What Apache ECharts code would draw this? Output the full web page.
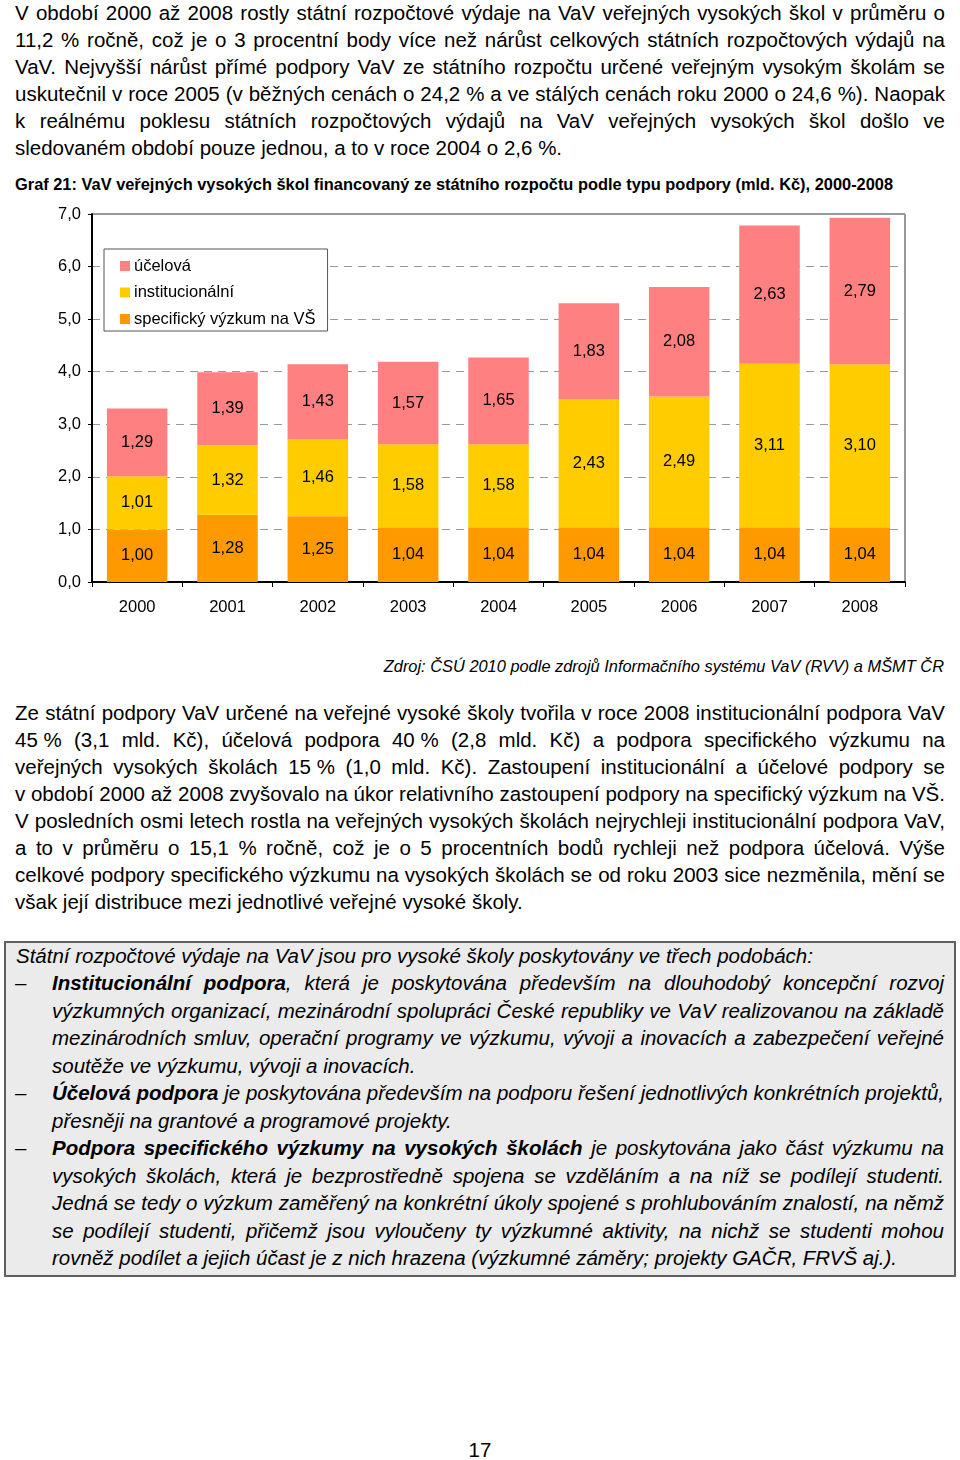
<!DOCTYPE html>
<html>
<head>
<meta charset="utf-8">
<script src="https://cdn.jsdelivr.net/npm/echarts@6/dist/echarts.min.js"></script>
<style>
  html, body { margin:0; padding:0; background:#fff; }
  #page { position:relative; width:960px; height:1460px; overflow:hidden; font-family:'Liberation Sans', Arial, sans-serif; color:#000; }
  .para { position:absolute; font-size:20.5px; }
  .para div { height:27px; line-height:27px; text-align:justify; text-align-last:justify; }
  .para div.last { text-align:left; text-align-last:left; }
  .nb { display:inline-block; }
  #title { position:absolute; left:15px; top:174px; font-size:16.4px; line-height:20px; font-weight:bold; white-space:nowrap; }
  #source { position:absolute; right:16px; top:656px; font-size:16.4px; line-height:20px; font-style:italic; white-space:nowrap; }
  #box { position:absolute; left:4px; top:941px; width:948px; height:332px; background:#ebebeb; border:2px solid #606060; }
  #boxtext { position:absolute; left:0; top:942px; width:960px; font-size:20.5px; font-style:italic; }
  #boxtext div.l { position:absolute; height:27.45px; line-height:27.45px; text-align:justify; text-align-last:justify; }
  #boxtext div.last { text-align:left; text-align-last:left; }
  #boxtext .dash { position:absolute; left:15px; font-style:normal; height:27.45px; line-height:27.45px; }
  #chart { position:absolute; left:0; top:190px; width:960px; height:450px; }
  #pagenum { position:absolute; left:0; width:960px; top:1436px; text-align:center; font-size:20.5px; line-height:27px; }
</style>
</head>
<body>
<div id="page">
  <div class="para" style="left:15px; top:-1.5px; width:930px;">
    <div>V období 2000 až 2008 rostly státní rozpočtové výdaje na VaV veřejných vysokých škol v průměru o</div>
    <div>11,2 % ročně, což je o 3 procentní body více než nárůst celkových státních rozpočtových výdajů na</div>
    <div>VaV. Nejvyšší nárůst přímé podpory VaV ze státního rozpočtu určené veřejným vysokým školám se</div>
    <div>uskutečnil v roce 2005 (v běžných cenách o 24,2 % a ve stálých cenách roku 2000 o 24,6 %). Naopak</div>
    <div>k reálnému poklesu státních rozpočtových výdajů na VaV veřejných vysokých škol došlo ve</div>
    <div class="last">sledovaném období pouze jednou, a to v roce 2004 o 2,6 %.</div>
  </div>

  <div id="title">Graf 21: VaV veřejných vysokých škol financovaný ze státního rozpočtu podle typu podpory (mld. Kč), 2000-2008</div>

  <div id="chart"></div>

  <div id="source">Zdroj: ČSÚ 2010 podle zdrojů Informačního systému VaV (RVV) a MŠMT ČR</div>

  <div class="para" style="left:15px; top:699px; width:930px;">
    <div>Ze státní podpory VaV určené na veřejné vysoké školy tvořila v roce 2008 institucionální podpora VaV</div>
    <div><span class="nb">45 %</span> (3,1 mld. Kč), účelová podpora <span class="nb">40 %</span> (2,8 mld. Kč) a podpora specifického výzkumu na</div>
    <div>veřejných vysokých školách <span class="nb">15 %</span> (1,0 mld. Kč). Zastoupení institucionální a účelové podpory se</div>
    <div>v období 2000 až 2008 zvyšovalo na úkor relativního zastoupení podpory na specifický výzkum na VŠ.</div>
    <div>V posledních osmi letech rostla na veřejných vysokých školách nejrychleji institucionální podpora VaV,</div>
    <div>a to v průměru o 15,1 % ročně, což je o 5 procentních bodů rychleji než podpora účelová. Výše</div>
    <div>celkové podpory specifického výzkumu na vysokých školách se od roku 2003 sice nezměnila, mění se</div>
    <div class="last">však její distribuce mezi jednotlivé veřejné vysoké školy.</div>
  </div>

  <div id="box"></div>
  <div id="boxtext">
    <div class="l last" style="left:16px; top:0px; width:928px;">Státní rozpočtové výdaje na VaV jsou pro vysoké školy poskytovány ve třech podobách:</div>
    <div class="dash" style="top:27.45px;">–</div>
    <div class="l" style="left:52px; top:27.45px; width:892px;"><b>Institucionální podpora</b>, která je poskytována především na dlouhodobý koncepční rozvoj</div>
    <div class="l" style="left:52px; top:54.9px; width:892px;">výzkumných organizací, mezinárodní spolupráci České republiky ve VaV realizovanou na základě</div>
    <div class="l" style="left:52px; top:82.35px; width:892px;">mezinárodních smluv, operační programy ve výzkumu, vývoji a inovacích a zabezpečení veřejné</div>
    <div class="l last" style="left:52px; top:109.8px; width:892px;">soutěže ve výzkumu, vývoji a inovacích.</div>
    <div class="dash" style="top:137.25px;">–</div>
    <div class="l" style="left:52px; top:137.25px; width:892px;"><b>Účelová podpora</b> je poskytována především na podporu řešení jednotlivých konkrétních projektů,</div>
    <div class="l last" style="left:52px; top:164.7px; width:892px;">přesněji na grantové a programové projekty.</div>
    <div class="dash" style="top:192.15px;">–</div>
    <div class="l" style="left:52px; top:192.15px; width:892px;"><b>Podpora specifického výzkumy na vysokých školách</b> je poskytována jako část výzkumu na</div>
    <div class="l" style="left:52px; top:219.6px; width:892px;">vysokých školách, která je bezprostředně spojena se vzděláním a na níž se podílejí studenti.</div>
    <div class="l" style="left:52px; top:247.05px; width:892px;">Jedná se tedy o výzkum zaměřený na konkrétní úkoly spojené s prohlubováním znalostí, na němž</div>
    <div class="l" style="left:52px; top:274.5px; width:892px;">se podílejí studenti, přičemž jsou vyloučeny ty výzkumné aktivity, na nichž se studenti mohou</div>
    <div class="l last" style="left:52px; top:301.95px; width:892px;">rovněž podílet a jejich účast je z nich hrazena (výzkumné záměry; projekty GAČR, FRVŠ aj.).</div>
  </div>

  <div id="pagenum">17</div>
</div>

<script>
// ---- Data ----
const years = ['2000', '2001', '2002', '2003', '2004', '2005', '2006', '2007', '2008'];
const specifickyVyzkum = [1.00, 1.28, 1.25, 1.04, 1.04, 1.04, 1.04, 1.04, 1.04];
const institucionalni = [1.01, 1.32, 1.46, 1.58, 1.58, 2.43, 2.49, 3.11, 3.10];
const ucelova = [1.29, 1.39, 1.43, 1.57, 1.65, 1.83, 2.08, 2.63, 2.79];
const seriesNames = ['účelová', 'institucionální', 'specifický výzkum na VŠ'];
const yMin = 0, yMax = 7, yStep = 1;

const FONT = "'Liberation Sans', Arial, sans-serif";
const fmt = v => v.toFixed(2).replace('.', ',');

const chart = echarts.init(document.getElementById('chart'), null, { renderer: 'canvas' });

function barSeries(name, data, color) {
  return {
    name: name,
    type: 'bar',
    stack: 'total',
    data: data,
    barWidth: '67%',
    itemStyle: { color: color },
    label: {
      show: true,
      position: 'inside',
      formatter: p => fmt(p.value),
      color: '#000',
      fontSize: 16.5,
      fontFamily: FONT
    }
  };
}

chart.setOption({
  animation: false,
  textStyle: { fontFamily: FONT },
  grid: {
    left: 92, right: 55, top: 24, bottom: 58,
    show: true, borderColor: '#333', borderWidth: 1, backgroundColor: 'transparent'
  },
  legend: {
    orient: 'vertical',
    left: 104, top: 59,
    data: seriesNames,
    backgroundColor: '#fff',
    borderColor: '#555',
    borderWidth: 1,
    padding: [8, 12, 3, 16],
    itemWidth: 10, itemHeight: 10, itemGap: 8.5,
    icon: 'rect',
    selectedMode: false,
    textStyle: { fontSize: 16.5, color: '#000', fontFamily: FONT, lineHeight: 18, padding: [0, 0, 0, -1] }
  },
  xAxis: {
    type: 'category',
    data: years,
    axisLine: { lineStyle: { color: '#000', width: 2 } },
    axisTick: { show: true, length: 5, lineStyle: { color: '#000' } },
    axisLabel: { color: '#000', fontSize: 16.5, fontFamily: FONT, margin: 17 },
    splitLine: { show: false }
  },
  yAxis: {
    type: 'value',
    min: yMin, max: yMax, interval: yStep,
    axisLine: { show: true, lineStyle: { color: '#000', width: 2 } },
    axisTick: { show: true, length: 4, lineStyle: { color: '#000' } },
    axisLabel: { color: '#000', fontSize: 16.5, fontFamily: FONT, margin: 11, formatter: v => v.toFixed(1).replace('.', ',') },
    splitLine: { show: true, lineStyle: { color: '#999', type: [8, 6], width: 1 } }
  },
  series: [
    barSeries(seriesNames[2], specifickyVyzkum, '#FF9900'),
    barSeries(seriesNames[1], institucionalni, '#FFCC00'),
    barSeries(seriesNames[0], ucelova, '#FF8080')
  ]
});
</script>
</body>
</html>
